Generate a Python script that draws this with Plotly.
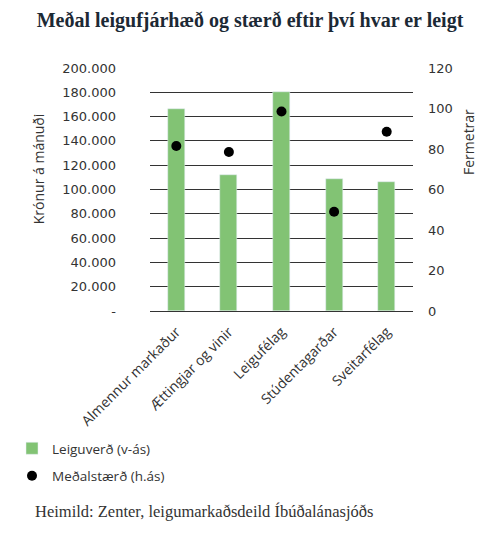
import plotly.graph_objects as go

# Data
categories = ['Almennur markaður', 'Ættingjar og vinir', 'Leigufélag',
              'Stúdentagarðar', 'Sveitarfélag']
rent = [166000, 112000, 180500, 108500, 106500]      # Leiguverð, kr/mán (left axis)
size_m2 = [81.5, 78.5, 98.5, 49, 88.5]               # Meðalstærð, m2 (right axis)

left_ticks = [0, 20000, 40000, 60000, 80000, 100000, 120000, 140000, 160000, 180000, 200000]
left_labels = ['-', '20.000', '40.000', '60.000', '80.000', '100.000',
               '120.000', '140.000', '160.000', '180.000', '200.000']
right_ticks = [0, 20, 40, 60, 80, 100, 120]

sans = 'Open Sans'
tick_font = 'DejaVu Sans'
serif = 'Liberation Serif'
text_col = '#333333'

# the page body adds an 8px margin, so the figure is 8px smaller than the window
W, H = 492, 537

fig = go.Figure()

fig.add_trace(go.Bar(
    x=categories, y=rent, name='Leiguverð (v-ás)',
    marker_color='#82c374', width=0.32, legendgroup='a',
))
fig.add_trace(go.Scatter(
    x=categories, y=size_m2, name='Meðalstærð (h.ás)', yaxis='y2',
    mode='markers', marker=dict(color='black', size=10), legendgroup='b',
))

fig.update_layout(
    width=W, height=H,
    paper_bgcolor='white', plot_bgcolor='white',
    margin=dict(l=142, r=87, t=60, b=234, autoexpand=False),
    font=dict(family=sans, size=13, color=text_col),
    title=dict(
        text='<b>Meðal leigufjárhæð og stærð eftir því hvar er leigt</b>',
        font=dict(family=serif, size=20, color='#1c2935'),
        x=242 / W, xanchor='center', y=1 - 12 / H, yanchor='middle',
    ),
    xaxis=dict(
        tickangle=-45, showgrid=False, showline=False, ticks='',
        tickfont=dict(size=14), automargin=False, ticklabelstandoff=9,
    ),
    yaxis=dict(
        range=[0, 200000], tickvals=left_ticks, ticktext=left_labels,
        showgrid=True, gridcolor='#333333', gridwidth=1,
        zeroline=True, zerolinecolor='#333333', zerolinewidth=1,
        showline=False, ticks='', ticklabelstandoff=33,
        tickfont=dict(family=tick_font, size=13), automargin=False,
    ),
    yaxis2=dict(
        range=[0, 120], tickvals=right_ticks, overlaying='y', side='right',
        showgrid=False, zeroline=False, showline=False, ticks='',
        ticklabelstandoff=14, tickfont=dict(family=tick_font, size=13),
        automargin=False,
    ),
    legend=dict(
        xref='container', yref='container', x=4 / W, y=1 - 425 / H,
        xanchor='left', yanchor='top', orientation='v',
        font=dict(size=13.5), tracegroupgap=7, itemwidth=30,
        bgcolor='rgba(0,0,0,0)',
    ),
    bargap=0,
    annotations=[
        dict(text='Krónur á mánuði', textangle=-90, xref='paper', yref='paper',
             x=-0.425, y=0.5 + (189.5 - 169) / 243, xanchor='center', yanchor='middle',
             showarrow=False, font=dict(size=14)),
        dict(text='Fermetrar', textangle=-90, xref='paper', yref='paper',
             x=1 + (468 - 413) / 263, y=0.5 + (189.5 - 142) / 243,
             xanchor='center', yanchor='middle', showarrow=False, font=dict(size=14)),
        dict(text='Heimild: Zenter, leigumarkaðsdeild Íbúðalánasjóðs',
             xref='paper', yref='paper', x=(33 - 150) / 263, y=-(511 - 311) / 243,
             xanchor='left', yanchor='middle', showarrow=False,
             font=dict(family=serif, size=16.5, color=text_col)),
    ],
)

fig.write_html('out.html')
